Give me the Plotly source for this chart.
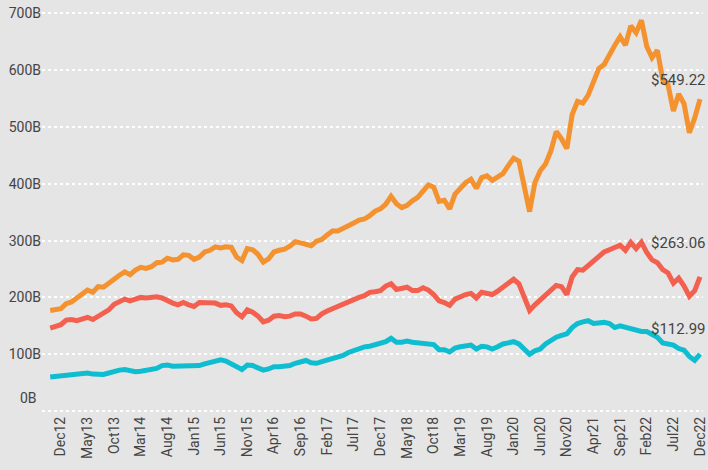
import plotly.graph_objects as go

# month index: 0 = Dec12; data runs from Oct12 (-2) to Dec22 (120)
months = list(range(-2, 121))

orange = [177, 178, 180, 189, 192, 199, 207, 213, 209, 219, 218, 224, 232, 239, 245, 240, 248, 253, 251, 254,
          261, 262, 269, 266, 267, 275, 274, 267, 271, 280, 283, 289, 287, 289, 288, 271, 265, 286, 284, 276,
          262, 268, 280, 283, 285, 290, 298, 296, 293, 291, 299, 302, 310, 317, 317, 321, 325, 331, 336, 338,
          344, 352, 356, 364, 378, 365, 358, 362, 370, 376, 387, 398, 394, 369, 371, 356, 382, 393, 402, 408,
          392, 411, 414, 406, 412, 418, 432, 445, 440, 398, 351, 402, 423, 435, 458, 492, 479, 462, 522, 545,
          542, 556, 580, 603, 610, 628, 644, 659, 644, 678, 666, 688, 642, 622, 635, 583, 574, 528, 558, 541,
          490, 516, 549]

red = [146, 148, 152, 160, 161, 159, 163, 165, 161, 167, 173, 178, 188, 193, 197, 194, 196, 200, 199, 200,
       201, 199, 194, 190, 187, 191, 187, 184, 191, 190, 189, 190, 186, 187, 185, 173, 166, 178, 174, 167,
       157, 160, 167, 168, 166, 167, 171, 171, 167, 162, 163, 171, 176, 180, 184, 189, 194, 196, 200, 203,
       209, 210, 212, 220, 224, 214, 217, 218, 212, 212, 217, 213, 205, 194, 191, 186, 197, 202, 205, 207,
       199, 209, 208, 205, 211, 218, 225, 232, 224, 200, 177, 187, 196, 203, 211, 221, 219, 205, 236, 249,
       248, 256, 265, 272, 280, 284, 289, 292, 283, 297, 286, 297, 279, 266, 261, 249, 243, 225, 234, 220,
       202, 212, 236]

cyan = [60, 61, 62, 63, 64.5, 66, 67, 67, 65, 65, 64.5, 67, 70, 72, 73, 70, 69, 70, 72, 74,
        75, 80, 81, 79, 79, 80, 79, 78, 80, 83, 86, 89, 90, 88, 83, 77, 73, 81, 80, 76,
        72, 74, 78, 78, 78, 80, 84, 87, 89, 85, 84, 87, 90, 92, 94, 98, 103, 106, 111, 113,
        114, 117, 121, 122, 128, 121, 121, 123, 121, 120, 120, 119, 117, 108, 108, 104, 111, 113, 115, 116,
        109, 114, 113, 109, 113, 118, 120, 122, 118, 108, 100, 106, 109, 118, 124, 130, 133, 136, 147, 154,
        157, 159, 154, 155, 156, 154, 147, 150, 147, 145, 143, 140, 140, 135, 130, 120, 119, 116, 110, 107,
        96, 89, 100]

tick_months = list(range(0, 121, 5))
tick_labels = ["Dec12", "May13", "Oct13", "Mar14", "Aug14", "Jan15", "Jun15", "Nov15", "Apr16", "Sep16",
               "Feb17", "Jul17", "Dec17", "May18", "Oct18", "Mar19", "Aug19", "Jan20", "Jun20", "Nov20",
               "Apr21", "Sep21", "Feb22", "Jul22", "Dec22"]

y_ticks = [0, 100, 200, 300, 400, 500, 600, 700]
y_labels = ["", "100B", "200B", "300B", "400B", "500B", "600B", "700B"]

end_labels = ["$549.22", "$263.06", "$112.99"]
end_label_y = [583, 296, 144]

FONT = "Roboto"
TXT = "#444444"

fig = go.Figure()
for vals, col in [(cyan, "#0fbdd0"), (red, "#f4604f"), (orange, "#f4922f")]:
    fig.add_trace(go.Scatter(x=months, y=vals, mode="lines",
                             line=dict(color=col, width=5), hoverinfo="skip"))

for txt, yv in zip(end_labels, end_label_y):
    fig.add_annotation(x=1, xref="paper", xanchor="right", xshift=5, y=yv, yref="y", yanchor="middle",
                       text=txt, showarrow=False, font=dict(family=FONT, size=15, color=TXT))

fig.add_annotation(x=0, xref="paper", xanchor="right", xshift=-3, y=0, yref="y", yanchor="middle",
                   yshift=13, text="0B", showarrow=False, font=dict(family=FONT, size=14, color=TXT))

fig.update_layout(
    width=708, height=470,
    margin=dict(l=42, r=0, t=0, b=57),
    paper_bgcolor="#e5e5e5", plot_bgcolor="#e5e5e5",
    showlegend=False, hovermode=False,
    font=dict(family=FONT, size=14, color=TXT),
)
fig.update_xaxes(range=[-3.54, 120.56], tickvals=tick_months, ticktext=tick_labels, tickangle=-90,
                 showgrid=False, zeroline=False, showline=False, ticks="",
                 ticklabeloverflow="allow",
                 tickfont=dict(family=FONT, size=14, color=TXT))
fig.update_yaxes(range=[-3.5, 723.6], tickvals=y_ticks, ticktext=y_labels,
                 showgrid=True, gridcolor="#ffffff", gridwidth=1.5, griddash="dot",
                 zeroline=False, showline=False, ticks="",
                 tickfont=dict(family=FONT, size=14, color=TXT))

fig.write_html("out.html", config={"displayModeBar": False},
               post_script="document.body.style.margin='0';document.body.style.overflow='hidden';")
